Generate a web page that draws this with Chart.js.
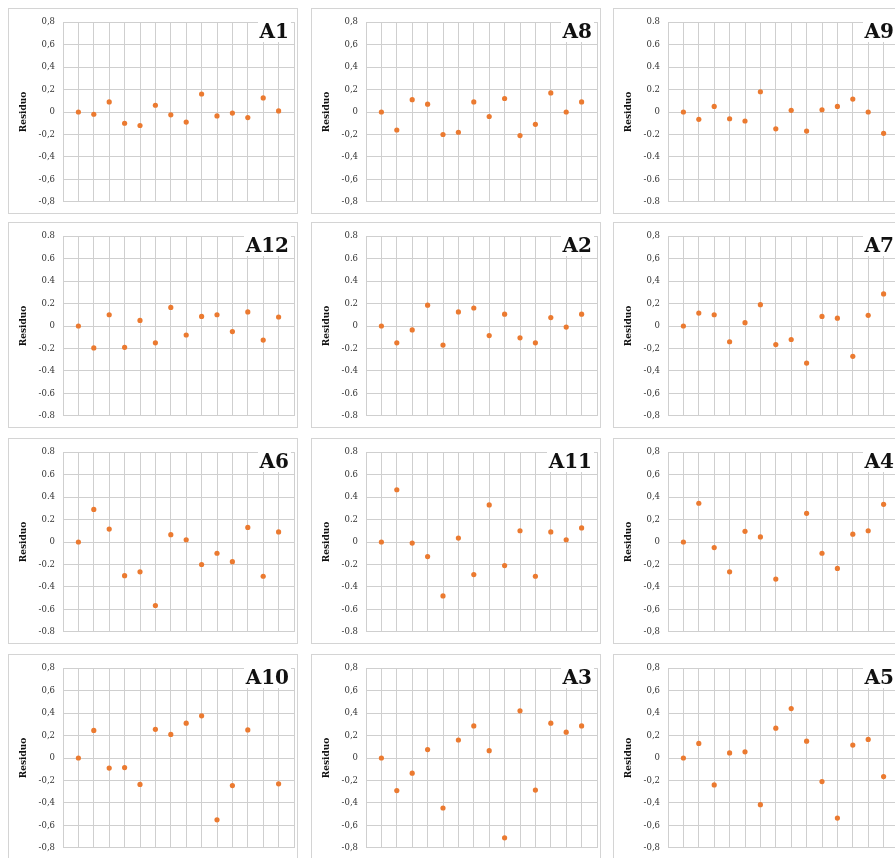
<!DOCTYPE html>
<html>
<head>
<meta charset="utf-8">
<script src="https://cdn.jsdelivr.net/npm/chart.js@4.4.1/dist/chart.umd.min.js"></script>
<style>
  body { margin: 0; background: #fff; width: 895px; height: 858px; overflow: hidden; position: relative; }
  .panel { position: absolute; width: 290px; height: 206px; border: 1px solid #d4d4d4; box-sizing: border-box; background: #fff; }
  .panel canvas { position: absolute; left: 0; top: 0; }
  .tag { position: absolute; top: 11px; right: 6px; font: bold 20px "DejaVu Serif", serif; color: #111; background: #fff; line-height: 22px; padding: 0 2px; }
</style>
</head>
<body>
<script>
// ----------------------------
// Data: residuals for each sample, 14 runs
// ----------------------------
const runs = [1, 2, 3, 4, 5, 6, 7, 8, 9, 10, 11, 12, 13, 14];

const A1  = [0, -0.02, 0.09, -0.1, -0.12, 0.06, -0.025, -0.09, 0.16, -0.035, -0.01, -0.05, 0.125, 0.01];
const A8  = [0, -0.16, 0.11, 0.07, -0.2, -0.18, 0.09, -0.04, 0.12, -0.21, -0.11, 0.17, 0, 0.09];
const A9  = [0, -0.065, 0.05, -0.06, -0.08, 0.18, -0.15, 0.015, -0.17, 0.02, 0.05, 0.115, 0, -0.19];
const A12 = [0, -0.195, 0.1, -0.19, 0.05, -0.15, 0.165, -0.08, 0.085, 0.1, -0.05, 0.125, -0.125, 0.08];
const A2  = [0, -0.15, -0.035, 0.185, -0.17, 0.125, 0.16, -0.085, 0.105, -0.105, -0.15, 0.075, -0.01, 0.105];
const A7  = [0, 0.115, 0.1, -0.14, 0.03, 0.19, -0.165, -0.12, -0.33, 0.085, 0.07, -0.27, 0.095, 0.285];
const A6  = [0, 0.29, 0.115, -0.3, -0.265, -0.565, 0.065, 0.02, -0.2, -0.1, -0.175, 0.13, -0.305, 0.09];
const A11 = [0, 0.465, -0.01, -0.13, -0.48, 0.035, -0.29, 0.33, -0.21, 0.1, -0.305, 0.09, 0.02, 0.125];
const A4  = [0, 0.345, -0.05, -0.265, 0.095, 0.045, -0.33, null, 0.255, -0.1, -0.235, 0.07, 0.1, 0.335];
const A10 = [0, 0.245, -0.09, -0.085, -0.235, 0.255, 0.21, 0.31, 0.375, -0.55, -0.245, 0.25, null, -0.23];
const A3  = [0, -0.29, -0.135, 0.075, -0.445, 0.16, 0.285, 0.065, -0.71, 0.42, -0.285, 0.31, 0.23, 0.285];
const A5  = [0, 0.13, -0.24, 0.045, 0.055, -0.415, 0.265, 0.44, 0.15, -0.21, -0.535, 0.115, 0.165, -0.165];

// tick labels (some panels use comma, some dot)
const ticksComma = ["-0,8", "-0,6", "-0,4", "-0,2", "0", "0,2", "0,4", "0,6", "0,8"];
const ticksDot   = ["-0.8", "-0.6", "-0.4", "-0.2", "0", "0.2", "0.4", "0.6", "0.8"];

const yTitle = "Residuo";

// panel order, row by row
const panels = [
    { name: "A1",  values: A1,  ticks: ticksComma },
    { name: "A8",  values: A8,  ticks: ticksComma },
    { name: "A9",  values: A9,  ticks: ticksDot },
    { name: "A12", values: A12, ticks: ticksDot },
    { name: "A2",  values: A2,  ticks: ticksDot },
    { name: "A7",  values: A7,  ticks: ticksComma },
    { name: "A6",  values: A6,  ticks: ticksDot },
    { name: "A11", values: A11, ticks: ticksDot },
    { name: "A4",  values: A4,  ticks: ticksComma },
    { name: "A10", values: A10, ticks: ticksComma },
    { name: "A3",  values: A3,  ticks: ticksComma },
    { name: "A5",  values: A5,  ticks: ticksComma },
];

// ----------------------------
// Layout of the grid
// ----------------------------
const colX = [8, 311, 613];
const rowY = [8, 222, 438, 654];
const W = 290, H = 206;

const font = "'DejaVu Serif', serif";

panels.forEach((p, i) => {
    const div = document.createElement("div");
    div.className = "panel";
    div.style.left = colX[i % 3] + "px";
    div.style.top = rowY[Math.floor(i / 3)] + "px";

    const canvas = document.createElement("canvas");
    canvas.width = W;
    canvas.height = H;
    div.appendChild(canvas);

    const tag = document.createElement("div");
    tag.className = "tag";
    tag.textContent = p.name;
    div.appendChild(tag);

    document.body.appendChild(div);

    new Chart(canvas.getContext("2d"), {
        type: "scatter",
        data: {
            datasets: [{
                data: runs.map((r, k) => ({ x: r, y: p.values[k] })),
                backgroundColor: "#EB7A30",
                borderWidth: 0,
                pointRadius: 2.6,
            }]
        },
        options: {
            responsive: false,
            animation: false,
            layout: { padding: { left: 9, right: 5, top: 11, bottom: 12 } },
            plugins: { legend: { display: false }, tooltip: { enabled: false } },
            scales: {
                x: {
                    type: "linear",
                    min: 0,
                    max: 15,
                    ticks: { stepSize: 1, display: false },
                    grid: { color: "#cfcfcf", drawTicks: false },
                    border: { display: false },
                    afterFit: s => { s.height = 0; }
                },
                y: {
                    min: -0.8,
                    max: 0.8,
                    ticks: {
                        stepSize: 0.2,
                        padding: 8,
                        color: "#333",
                        font: { family: font, size: 8.5 },
                        callback: (v, idx) => p.ticks[idx]
                    },
                    grid: { color: "#cfcfcf", drawTicks: false },
                    border: { display: false },
                    title: {
                        display: true,
                        text: yTitle,
                        color: "#111",
                        padding: 0,
                        font: { family: font, size: 9, weight: "bold" }
                    },
                    afterFit: s => { s.width = 45; }
                }
            }
        }
    });
});
</script>
</body>
</html>
